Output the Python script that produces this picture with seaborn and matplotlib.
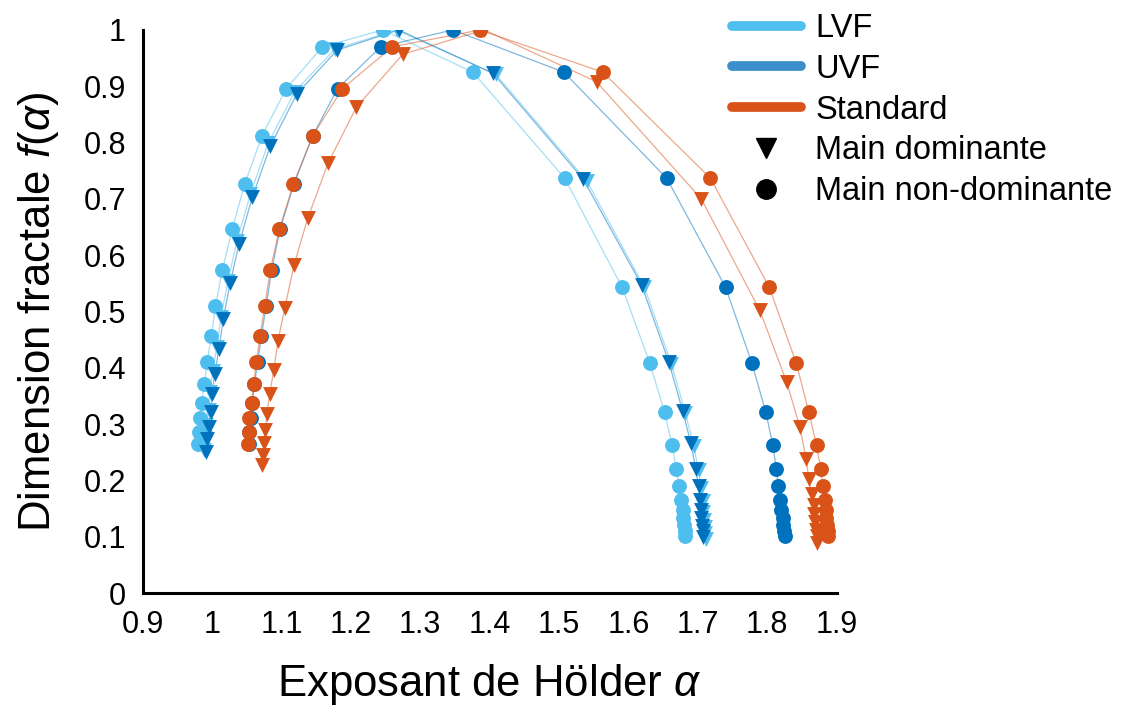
import matplotlib.pyplot as plt
from matplotlib.lines import Line2D
import pandas as pd
import seaborn as sns

# f(alpha) values shared by the circle (non-dominant) series, left branch -> peak -> right branch
f_circles = [0.265, 0.287, 0.311, 0.338, 0.371, 0.411, 0.456, 0.510, 0.574, 0.646, 0.726, 0.812, 0.896, 0.970,
             1.0,
             0.925, 0.737, 0.543, 0.408, 0.321, 0.263, 0.221, 0.190, 0.166, 0.147, 0.133, 0.121, 0.111, 0.102]

lvf_nd_alpha = [0.980, 0.981, 0.983, 0.985, 0.989, 0.993, 0.999, 1.005, 1.015, 1.029, 1.047, 1.072, 1.107, 1.159,
                1.246,
                1.376, 1.508, 1.591, 1.631, 1.652, 1.663, 1.669, 1.673, 1.676, 1.678, 1.679, 1.680, 1.681, 1.682]
uvf_nd_alpha = [1.053, 1.054, 1.056, 1.058, 1.061, 1.066, 1.071, 1.078, 1.086, 1.098, 1.118, 1.145, 1.181, 1.243,
                1.347,
                1.507, 1.655, 1.740, 1.778, 1.798, 1.808, 1.813, 1.816, 1.819, 1.820, 1.822, 1.823, 1.824, 1.825]
std_nd_alpha = [1.052, 1.053, 1.054, 1.057, 1.060, 1.064, 1.069, 1.076, 1.084, 1.097, 1.117, 1.145, 1.188, 1.260,
                1.386,
                1.563, 1.718, 1.803, 1.842, 1.860, 1.871, 1.877, 1.880, 1.883, 1.884, 1.885, 1.886, 1.887, 1.888]

# triangle (dominant) series
lvf_d_alpha = [0.989, 0.990, 0.992, 0.995, 0.997, 1.001, 1.007, 1.013, 1.023, 1.036, 1.055, 1.081, 1.119, 1.177,
               1.266,
               1.409, 1.540, 1.623, 1.662, 1.682, 1.694, 1.701, 1.705, 1.707, 1.708, 1.709, 1.710, 1.711, 1.712]
lvf_d_f = [0.254, 0.276, 0.299, 0.326, 0.357, 0.394, 0.438, 0.491, 0.555, 0.625, 0.708, 0.799, 0.890, 0.966,
           1.0,
           0.921, 0.732, 0.543, 0.407, 0.320, 0.262, 0.218, 0.187, 0.163, 0.144, 0.130, 0.117, 0.107, 0.097]

uvf_d_alpha = [0.991, 0.993, 0.995, 0.998, 1.000, 1.004, 1.010, 1.016, 1.026, 1.039, 1.058, 1.084, 1.122, 1.180,
               1.269,
               1.405, 1.535, 1.619, 1.658, 1.678, 1.690, 1.697, 1.701, 1.703, 1.704, 1.705, 1.706, 1.707, 1.708]
uvf_d_f = [0.251, 0.273, 0.295, 0.322, 0.353, 0.390, 0.433, 0.486, 0.550, 0.620, 0.703, 0.794, 0.886, 0.964,
           1.0,
           0.923, 0.735, 0.547, 0.411, 0.324, 0.266, 0.221, 0.190, 0.166, 0.147, 0.133, 0.120, 0.110, 0.100]

std_d_alpha = [1.072, 1.073, 1.075, 1.077, 1.079, 1.083, 1.089, 1.095, 1.105, 1.118, 1.138, 1.167, 1.208, 1.275,
               1.392,
               1.554, 1.705, 1.789, 1.828, 1.847, 1.856, 1.860, 1.864, 1.867, 1.868, 1.869, 1.870, 1.871, 1.872]
std_d_f = [0.227, 0.245, 0.266, 0.290, 0.319, 0.353, 0.396, 0.448, 0.507, 0.582, 0.666, 0.763, 0.863, 0.957,
           1.0,
           0.908, 0.700, 0.503, 0.375, 0.295, 0.239, 0.202, 0.176, 0.156, 0.140, 0.126, 0.113, 0.101, 0.089]

groups = ['LVF', 'UVF', 'Standard']
colors = {'LVF': '#4DBEEE', 'UVF': '#0072BD', 'Standard': '#D95319'}
legend_colors = ['#4FBFEE', '#3A8FCB', '#D95319']

x_ticks = [0.9, 1.0, 1.1, 1.2, 1.3, 1.4, 1.5, 1.6, 1.7, 1.8, 1.9]
x_tick_labels = ['0.9', '1', '1.1', '1.2', '1.3', '1.4', '1.5', '1.6', '1.7', '1.8', '1.9']
y_ticks = [0, 0.1, 0.2, 0.3, 0.4, 0.5, 0.6, 0.7, 0.8, 0.9, 1.0]
y_tick_labels = ['0', '0.1', '0.2', '0.3', '0.4', '0.5', '0.6', '0.7', '0.8', '0.9', '1']

series = [
    ('LVF', 'dominante', lvf_d_alpha, lvf_d_f),
    ('LVF', 'non-dominante', lvf_nd_alpha, f_circles),
    ('UVF', 'dominante', uvf_d_alpha, uvf_d_f),
    ('UVF', 'non-dominante', uvf_nd_alpha, f_circles),
    ('Standard', 'dominante', std_d_alpha, std_d_f),
    ('Standard', 'non-dominante', std_nd_alpha, f_circles),
]
frames = []
for grp, main, a, f in series:
    frames.append(pd.DataFrame({'alpha': a, 'f': f, 'groupe': grp, 'main': main}))
df = pd.concat(frames, ignore_index=True)

sns.set_style('white')
plt.rcParams['font.family'] = ['Liberation Sans', 'DejaVu Sans']
plt.rcParams['mathtext.fontset'] = 'custom'
plt.rcParams['mathtext.rm'] = 'Liberation Sans'
plt.rcParams['mathtext.it'] = 'Liberation Sans:italic'
for key in ['text.color', 'axes.labelcolor', 'xtick.color', 'ytick.color']:
    plt.rcParams[key] = 'black'

fig = plt.figure(figsize=(11.23, 7.13), dpi=100)
ax = fig.add_axes([0.127, 0.168, 0.618, 0.79])

markers = {'dominante': 'v', 'non-dominante': 'o'}
for grp in groups:
    for main in ['dominante', 'non-dominante']:
        sub = df[(df['groupe'] == grp) & (df['main'] == main)]
        sns.lineplot(data=sub, x='alpha', y='f', sort=False, estimator=None,
                     color=colors[grp], lw=0.9, alpha=0.5, ax=ax, legend=False)
        sns.scatterplot(data=sub, x='alpha', y='f', color=colors[grp], marker=markers[main],
                        s=115, linewidth=0, ax=ax, legend=False, zorder=3)

ax.set_xlim(0.9, 1.9)
ax.set_ylim(0, 1)
ax.set_xticks(x_ticks)
ax.set_xticklabels(x_tick_labels)
ax.set_yticks(y_ticks)
ax.set_yticklabels(y_tick_labels)
ax.tick_params(length=0, labelsize=22, pad=12)
sns.despine(ax=ax)
for side in ['left', 'bottom']:
    ax.spines[side].set_linewidth(2.2)
    ax.spines[side].set_color('black')

ax.set_xlabel('Exposant de Hölder $\\alpha$', fontsize=31.5, labelpad=16)
ax.set_ylabel('Dimension fractale $f(\\alpha)$', fontsize=31.5, labelpad=16)

handles = [Line2D([], [], color=c, lw=7) for c in legend_colors]
handles.append(Line2D([], [], color='k', marker='v', ls='none', ms=14))
handles.append(Line2D([], [], color='k', marker='o', ls='none', ms=14))
labels = groups + ['Main dominante', 'Main non-dominante']
fig.legend(handles, labels, loc='upper left', bbox_to_anchor=(0.646, 0.991), frameon=False,
           fontsize=23.5, handlelength=2.1, handletextpad=0.45, labelspacing=0.3,
           borderpad=0.2, borderaxespad=0)

fig.savefig('out.png', dpi=100)
